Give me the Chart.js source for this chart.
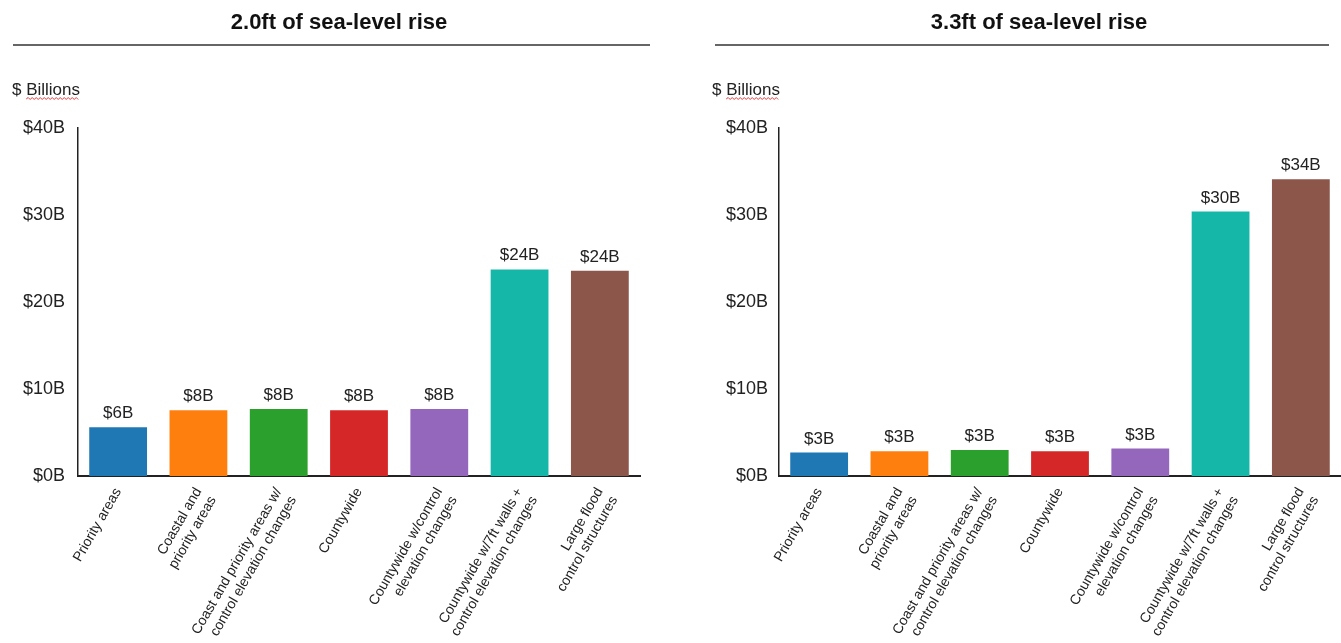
<!DOCTYPE html>
<html>
<head>
<meta charset="utf-8">
<script src="https://cdn.jsdelivr.net/npm/chart.js@4/dist/chart.umd.min.js"></script>
<style>
  html, body { margin: 0; padding: 0; background: #fff; }
  body { width: 1341px; height: 643px; position: relative; overflow: hidden; }
  .panel { position: absolute; top: 0; height: 643px; }
  #p1 { left: 0; width: 690px; }
  #p2 { left: 690px; width: 651px; }
</style>
</head>
<body>
<div class="panel" id="p1"><canvas id="c1" width="690" height="643"></canvas></div>
<div class="panel" id="p2"><canvas id="c2" width="651" height="643"></canvas></div>
<script>
// Flood-protection options (shared by both panels)
const categories = [
  ["Priority areas"],
  ["Coastal and", "priority areas"],
  ["Coast and priority areas w/", "control elevation changes"],
  ["Countywide"],
  ["Countywide w/control", "elevation changes"],
  ["Countywide w/7ft walls +", "control elevation changes"],
  ["Large flood", "control structures"]
];
const barColors = ["#1f77b4", "#ff7f0e", "#2ca02c", "#d62728", "#9467bd", "#15b8a8", "#8c564b"];

// Cost in $ billions
const cost2ft = [5.6, 7.55, 7.7, 7.55, 7.7, 23.75, 23.6];
const cost33ft = [2.7, 2.85, 3.0, 2.85, 3.15, 30.4, 34.1];

// Value axis
const yTicks = [0, 10, 20, 30, 40];
const yUnit = "$ Billions";

const FONT = "'Liberation Sans', Arial, Helvetica, sans-serif";

function fmtB(v) { return "$" + Math.round(v) + "B"; }

// Panel heading, rule under it, unit caption and the bar value labels
const decorPlugin = {
  id: "decor",
  afterDraw(chart, args, o) {
    const ctx = chart.ctx;
    ctx.save();
    // heading
    ctx.fillStyle = "#111";
    ctx.font = "bold 22px " + FONT;
    ctx.textAlign = "center";
    ctx.textBaseline = "alphabetic";
    ctx.fillText(o.title, o.titleX, 29);
    // rule
    ctx.strokeStyle = "#333";
    ctx.lineWidth = 1.5;
    ctx.beginPath();
    ctx.moveTo(o.ruleL, 45);
    ctx.lineTo(o.ruleR, 45);
    ctx.stroke();
    // unit caption
    ctx.fillStyle = "#222";
    ctx.font = "17px " + FONT;
    ctx.textAlign = "left";
    ctx.fillText(yUnit, o.unitX, 95);
    const wStart = o.unitX + ctx.measureText("$ ").width;
    const wEnd = o.unitX + ctx.measureText(yUnit).width;
    ctx.strokeStyle = "#e0393e";
    ctx.lineWidth = 1;
    ctx.beginPath();
    let up = true;
    ctx.moveTo(wStart, 99);
    for (let x = wStart + 2; x <= wEnd; x += 2) {
      ctx.lineTo(x, up ? 97.5 : 99.5);
      up = !up;
    }
    ctx.stroke();
    // value labels above bars
    ctx.fillStyle = "#222";
    ctx.font = "17px " + FONT;
    ctx.textAlign = "center";
    const meta = chart.getDatasetMeta(0);
    const data = chart.data.datasets[0].data;
    meta.data.forEach((bar, i) => {
      ctx.fillText(fmtB(data[i]), bar.x, bar.y - 9);
    });
    ctx.restore();
  }
};

function makeChart(id, values, g) {
  return new Chart(document.getElementById(id), {
    type: "bar",
    data: {
      labels: categories,
      datasets: [{
        data: values,
        backgroundColor: barColors,
        borderWidth: 0,
        barPercentage: 0.72,
        categoryPercentage: 1.0
      }]
    },
    plugins: [decorPlugin],
    options: {
      responsive: false,
      animation: false,
      events: [],
      layout: { padding: { top: 128, left: 0, right: g.padRight, bottom: 0 } },
      plugins: {
        legend: { display: false },
        tooltip: { enabled: false },
        title: { display: false },
        decor: { title: g.title, titleX: g.titleX, ruleL: g.ruleL, ruleR: g.ruleR, unitX: g.unitX }
      },
      scales: {
        x: {
          grid: { display: false, drawTicks: false },
          border: { display: true, color: "#222", width: 2 },
          ticks: {
            color: "#222",
            font: { family: FONT, size: 14 },
            minRotation: 60,
            maxRotation: 60,
            autoSkip: false,
            padding: 9
          },
          afterFit(scale) { scale.height = 643 - 476; }
        },
        y: {
          min: 0,
          max: 40,
          grid: { display: false, drawTicks: false },
          border: { display: true, color: "#222", width: 1.5 },
          ticks: {
            color: "#222",
            font: { family: FONT, size: 18 },
            padding: g.tickPad,
            callback: (v) => "$" + v + "B"
          },
          afterBuildTicks(scale) { scale.ticks = yTicks.map(v => ({ value: v })); },
          afterFit(scale) { scale.width = g.yWidth; }
        }
      }
    }
  });
}

makeChart("c1", cost2ft, {
  title: "2.0ft of sea-level rise", titleX: 339, ruleL: 13, ruleR: 650, unitX: 12,
  yWidth: 78, tickPad: 13, padRight: 50
});
makeChart("c2", cost33ft, {
  title: "3.3ft of sea-level rise", titleX: 349, ruleL: 25, ruleR: 639, unitX: 22,
  yWidth: 89, tickPad: 11, padRight: 0
});
</script>
</body>
</html>
